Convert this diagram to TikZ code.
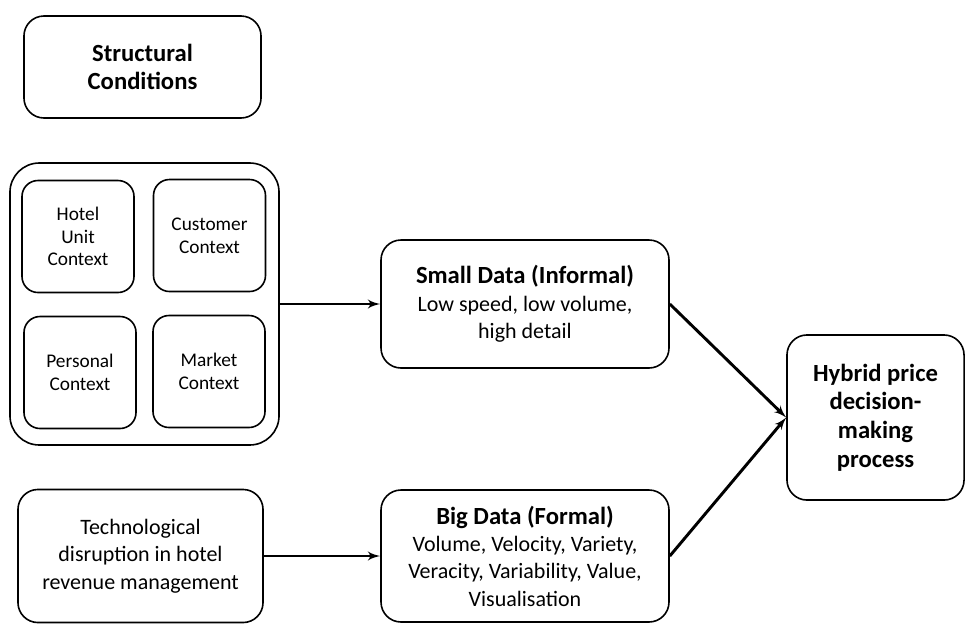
\documentclass[tikz,border=0pt]{standalone}
\usepackage{fontspec}
\setmainfont{Carlito}
\usetikzlibrary{shapes,arrows,positioning}
\newcommand{\heading}[1]{{\fontsize{18.5}{21.5}\selectfont\bfseries #1}}
\tikzstyle{block} = [rectangle, draw, line width=1.2pt, rounded corners=15pt,
    align=center, font=\fontsize{16.5}{20.5}\selectfont]
\tikzstyle{title} = [block, font=\fontsize{18.5}{21.5}\selectfont\bfseries]
\tikzstyle{ctx} = [block, rounded corners=12pt, minimum width=84pt,
    minimum height=84pt, font=\fontsize{14.5}{17}\selectfont]
\tikzstyle{line} = [draw, -latex', line width=2.2pt]

\begin{document}
\begin{tikzpicture}[x=0.75pt, y=-0.75pt]
		\useasboundingbox (0,0) rectangle (966,626);
		% Draw nodes
		\node [title, minimum width=177.8pt, minimum height=76.5pt] (cond) at (142.5,67) {Structural\\Conditions};
		\node [block, rounded corners=22pt, minimum width=201.8pt, minimum height=211.5pt] (group) at (144.5,304) {};
		\node [ctx] (hotel) at (78,236.5) {Hotel\\Unit\\Context};
		\node [ctx] (customer) at (209.5,235.5) {Customer\\Context};
		\node [ctx] (personal) at (80,372.5) {Personal\\Context};
		\node [ctx] (market) at (209,371.5) {Market\\Context};
		\node [block, minimum width=216pt, minimum height=96pt] (small) at (525,304) {\heading{Small Data (Informal)}\\Low speed, low volume,\\high detail};
		\node [block, minimum width=216pt, minimum height=99pt] (big) at (525,556) {\heading{Big Data (Formal)}\\Volume, Velocity, Variety,\\Veracity, Variability, Value,\\Visualisation};
		\node [title, minimum width=132.8pt, minimum height=123.8pt] (hybrid) at (875.5,417.5) {Hybrid price\\decision-\\making\\process};
		\node [block, minimum width=183.8pt, minimum height=99.8pt] (tech) at (140.5,556) {Technological\\disruption in hotel\\revenue management};
		% Draw lines connecting (arrows)
		\path [line] (group) -- (small);
		\path [line] (tech) -- (big);
		\path [line] (small.east) -- (hybrid.west);
		\path [line] (big.east) -- (hybrid.west);
	\end{tikzpicture}
\end{document}
